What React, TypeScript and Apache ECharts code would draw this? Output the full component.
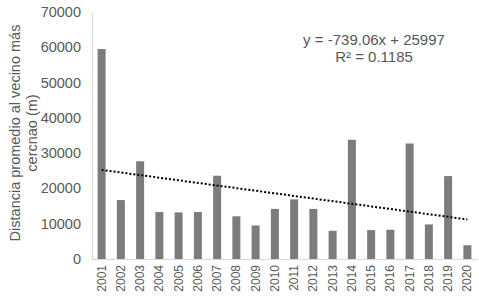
import React, { useEffect, useRef } from "react";
import * as echarts from "echarts";

const years = ["2001","2002","2003","2004","2005","2006","2007","2008","2009","2010","2011","2012","2013","2014","2015","2016","2017","2018","2019","2020"];
const distances = [59500, 16700, 27700, 13300, 13200, 13300, 23600, 12100, 9500, 14200, 16900, 14200, 8000, 33800, 8200, 8300, 32700, 9800, 23500, 3900];
// Linear trendline end values (y = -739.06x + 25997 at x = 1 and x = 20)
const trendStart = 25258;
const trendEnd = 11216;
const yTicks = [0, 10000, 20000, 30000, 40000, 50000, 60000, 70000];
const equationLines = ["y = -739.06x + 25997", "R² = 0.1185"];
const yTitle = "Distancia promedio al vecino más\ncercnao (m)";

export default function App() {
  const ref = useRef<HTMLDivElement>(null);
  useEffect(() => {
    if (!ref.current) return;
    const chart = echarts.init(ref.current, undefined, { renderer: "svg" });
    const font = "'Liberation Sans', Arial, sans-serif";
    const trendData = years.map((_, i) => (i === 0 ? trendStart : i === years.length - 1 ? trendEnd : null));
    chart.setOption({
      animation: false,
      backgroundColor: "#ffffff",
      grid: { left: 92, right: 2, top: 12, bottom: 45, containLabel: false },
      xAxis: {
        type: "category",
        data: years,
        axisLine: { show: true, lineStyle: { color: "#d9d9d9", width: 1 } },
        axisTick: { show: false },
        axisLabel: { rotate: 90, color: "#595959", fontSize: 12, fontFamily: font, margin: 6, interval: 0 },
      },
      yAxis: {
        type: "value",
        min: yTicks[0],
        max: yTicks[yTicks.length - 1],
        interval: 10000,
        axisLine: { show: true, lineStyle: { color: "#d9d9d9", width: 1 } },
        axisTick: { show: false },
        splitLine: { show: false },
        axisLabel: { color: "#595959", fontSize: 14.5, fontFamily: font, margin: 11, formatter: (v: number) => String(v) },
      },
      graphic: [
        {
          type: "text",
          x: 23,
          y: 133,
          rotation: Math.PI / 2,
          style: {
            text: yTitle,
            fill: "#595959",
            font: `14.5px ${font}`,
            align: "center",
            verticalAlign: "middle",
            lineHeight: 17,
          },
        },
        {
          type: "text",
          x: 374,
          y: 48,
          style: {
            text: equationLines.join("\n"),
            fill: "#595959",
            font: `15px ${font}`,
            align: "center",
            verticalAlign: "middle",
            lineHeight: 17,
          },
        },
      ],
      series: [
        {
          type: "bar",
          data: distances,
          barWidth: 8,
          itemStyle: { color: "#7c7c7c" },
        },
        {
          type: "line",
          data: trendData,
          connectNulls: true,
          symbol: "none",
          lineStyle: { color: "#000000", width: 2, type: [2, 2] },
          z: 5,
        },
      ],
    });
    return () => chart.dispose();
  }, []);
  return <div ref={ref} style={{ width: 479, height: 304, position: "absolute", left: 0, top: 0 }} />;
}
